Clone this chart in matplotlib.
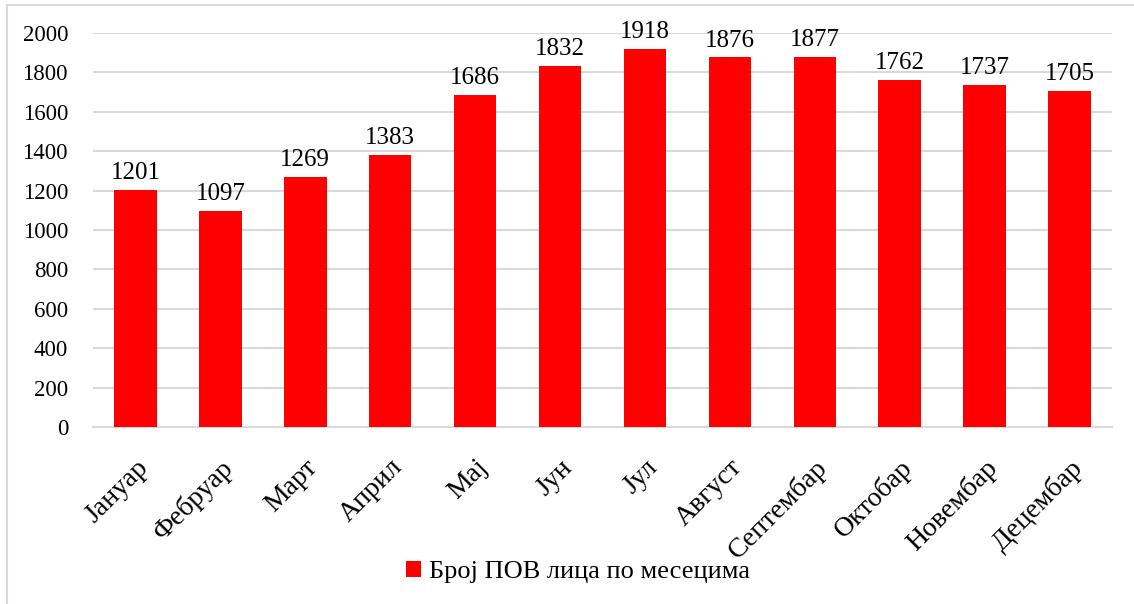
import matplotlib.pyplot as plt
from matplotlib.patches import Rectangle

months = ["Јануар", "Фебруар", "Март", "Април", "Мај", "Јун", "Јул",
          "Август", "Септембар", "Октобар", "Новембар", "Децембар"]
counts = [1201, 1097, 1269, 1383, 1686, 1832, 1918, 1876, 1877, 1762, 1737, 1705]
series_name = "Број ПОВ лица по месецима"
yticks = [0, 200, 400, 600, 800, 1000, 1200, 1400, 1600, 1800, 2000]

serif = ['Liberation Serif', 'DejaVu Serif']
plt.rcParams['font.family'] = serif

fig = plt.figure(figsize=(11.34, 6.04), dpi=100)
ax = fig.add_axes([93 / 1134, 1 - 427 / 604, (1112 - 93) / 1134, (427 - 33) / 604])

# light frame around the chart area
fig.patches.append(Rectangle((7 / 1134, -0.05), 1.2, 1 - 5 / 604 + 0.05,
                             transform=fig.transFigure, fill=False,
                             edgecolor="#d9d9d9", linewidth=1.5))

x = range(len(months))
bars = ax.bar(x, counts, width=0.5, color="#ff0000", label=series_name, zorder=3)

for xi, v in zip(x, counts):
    ax.text(xi, v + 30, str(v), ha="center", va="bottom", fontsize=18, family=serif)

ax.set_xlim(-0.5, len(months) - 0.5)
ax.set_ylim(0, 2000)
ax.set_yticks(yticks)
ax.set_yticklabels([str(t) for t in yticks], fontsize=16.5, family=serif)
ax.set_xticks(list(x))
ax.set_xticklabels(months, rotation=45, ha="right", rotation_mode="anchor",
                   fontsize=20, family=serif)
ax.tick_params(axis="both", length=0)
ax.tick_params(axis="y", pad=18)
ax.tick_params(axis="x", pad=20)

ax.grid(axis="y", color="#d9d9d9", linewidth=1.5, zorder=0)
for s in ["top", "right", "left"]:
    ax.spines[s].set_visible(False)
ax.spines["bottom"].set_color("#d9d9d9")
ax.spines["bottom"].set_linewidth(1.5)

fig.legend(handles=[bars], labels=[series_name], loc="center",
           bbox_to_anchor=(578 / 1134, 1 - 572 / 604), frameon=False,
           prop={'family': serif, 'size': 19},
           handlelength=0.6, handleheight=0.6, handletextpad=0.3)

fig.savefig("out.png", dpi=100)
